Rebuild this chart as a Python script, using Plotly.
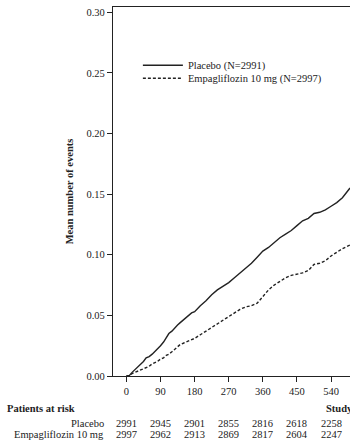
import plotly.graph_objects as go

days = [0, 8, 15, 22, 30, 38, 45, 52, 60, 68, 75, 82, 90, 98, 105, 112, 120, 128, 135, 142,
        150, 158, 165, 172, 180, 195, 210, 225, 240, 255, 270, 285, 300, 315, 330, 345,
        360, 375, 390, 405, 420, 435, 450, 465, 480, 495, 510, 525, 540, 555, 570, 590]
placebo = [0, 0.0005, 0.003, 0.005, 0.008, 0.010, 0.012, 0.015, 0.016, 0.018, 0.020, 0.022,
           0.025, 0.028, 0.031, 0.035, 0.037, 0.040, 0.042, 0.044, 0.046, 0.048, 0.050,
           0.052, 0.053, 0.058, 0.062, 0.067, 0.071, 0.074, 0.077, 0.081, 0.085, 0.089,
           0.093, 0.098, 0.103, 0.106, 0.110, 0.114, 0.117, 0.120, 0.124, 0.128, 0.130,
           0.134, 0.135, 0.137, 0.140, 0.143, 0.147, 0.155]
empa = [0, 0.0003, 0.002, 0.003, 0.004, 0.005, 0.006, 0.007, 0.008, 0.010, 0.011, 0.012,
        0.014, 0.015, 0.017, 0.018, 0.020, 0.022, 0.024, 0.026, 0.027, 0.028, 0.029,
        0.030, 0.031, 0.034, 0.037, 0.040, 0.043, 0.046, 0.049, 0.052, 0.055, 0.057,
        0.058, 0.060, 0.066, 0.071, 0.075, 0.078, 0.081, 0.083, 0.084, 0.085, 0.087,
        0.092, 0.093, 0.095, 0.099, 0.102, 0.105, 0.108]

x_ticks = [0, 90, 180, 270, 360, 450, 540]
y_ticks = [0.00, 0.05, 0.10, 0.15, 0.20, 0.25, 0.30]
risk_placebo = [2991, 2945, 2901, 2855, 2816, 2618, 2258]
risk_empa = [2997, 2962, 2913, 2869, 2817, 2604, 2247]
risk_labels = ["Placebo", "Empagliflozin 10 mg"]

FONT = "Liberation Serif"
INK = "#222222"
FS = 10.5
PW = 236.7  # plot width in px

fig = go.Figure()
fig.add_trace(go.Scatter(x=days, y=placebo, mode="lines", name="Placebo (N=2991)",
                         line=dict(color=INK, width=1.4), legend="legend"))
fig.add_trace(go.Scatter(x=days, y=empa, mode="lines", name="Empagliflozin 10 mg (N=2997)",
                         line=dict(color=INK, width=1.4, dash="3px,2px"),
                         legend="legend2"))

ann = []
row_shift = [-47, -58.6]
for r, (lab, vals) in enumerate(zip(risk_labels, [risk_placebo, risk_empa])):
    ann.append(dict(x=-7.3 / PW, xref="paper", y=0, yref="paper", yshift=row_shift[r],
                    text=lab, showarrow=False, xanchor="right", yanchor="middle",
                    font=dict(family=FONT, size=FS, color=INK)))
    for xv, v in zip(x_ticks, vals):
        ann.append(dict(x=xv, xref="x", y=0, yref="paper", yshift=row_shift[r],
                        text=str(v), showarrow=False, xanchor="center", yanchor="middle",
                        font=dict(family=FONT, size=FS, color=INK)))
ann.append(dict(x=-108.3 / PW, xref="paper", y=0, yref="paper", yshift=-32.5,
                text="<b>Patients at risk</b>", showarrow=False, xanchor="left",
                yanchor="middle", font=dict(family=FONT, size=FS, color=INK)))
ann.append(dict(x=(324 - 113.3) / PW, xref="paper", y=0, yref="paper", yshift=-32.5,
                text="<b>Study day</b>", showarrow=False, xanchor="left", yanchor="middle",
                font=dict(family=FONT, size=FS, color=INK)))

fig.update_layout(
    width=350, height=442,
    margin=dict(l=113.3, r=0, t=7.3, b=66.3),
    paper_bgcolor="white", plot_bgcolor="white",
    font=dict(family=FONT, size=FS, color=INK),
    annotations=ann,
    legend=dict(x=0.105, y=(375.7 - 65.5) / 368.4, xanchor="left", yanchor="middle",
                bgcolor="rgba(0,0,0,0)", font=dict(family=FONT, size=FS, color=INK),
                itemwidth=40),
    legend2=dict(x=0.105, y=(375.7 - 78.5) / 368.4, xanchor="left", yanchor="middle",
                 bgcolor="rgba(0,0,0,0)", font=dict(family=FONT, size=FS, color=INK),
                 itemwidth=40),
    showlegend=True,
)
fig.update_xaxes(range=[-35.4, 590], tickvals=x_ticks, ticks="outside", ticklen=5,
                 tickcolor=INK, showline=True, linecolor=INK, linewidth=1.3, mirror=True,
                 showgrid=False, zeroline=False, tickfont=dict(family=FONT, size=FS, color=INK))
fig.update_yaxes(range=[0, 0.3043], tickvals=y_ticks, tickformat=".2f", ticks="outside",
                 ticklen=5, tickcolor=INK, showline=True, linecolor=INK, linewidth=1.3,
                 showgrid=False, zeroline=False, tickfont=dict(family=FONT, size=FS, color=INK),
                 title=dict(text="<b>Mean number of events</b>", standoff=10,
                            font=dict(family=FONT, size=FS, color=INK)))

fig.write_html("out.html", config={"displayModeBar": False},
               post_script="document.body.style.margin='0';")
